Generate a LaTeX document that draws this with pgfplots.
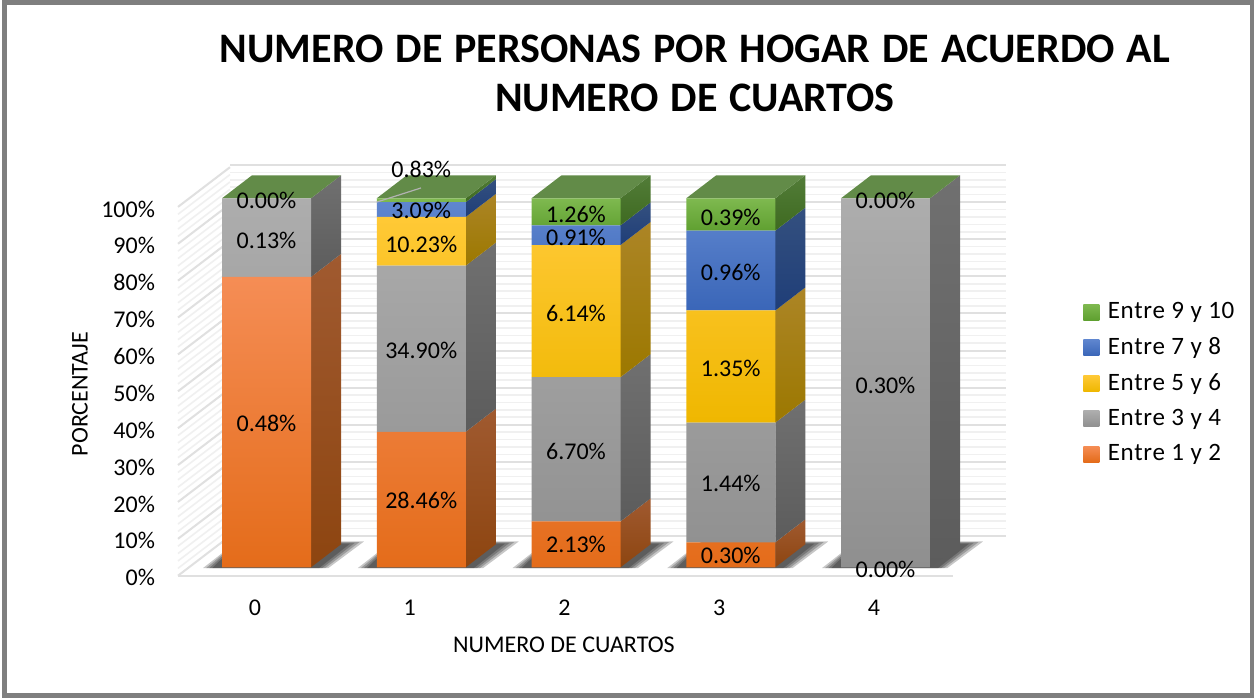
\documentclass[border=0pt]{standalone}
\usepackage{pgfplots}
\usepackage{pgfplotstable}
\usepackage{fontspec}
\setmainfont{Carlito}
\newfontfamily\titlefont[WordSpace=1.25]{Carlito}
\pgfplotsset{compat=1.18}

% 1 px of the reference = 0.5pt
\definecolor{frameg}{HTML}{7F7F7F}
\definecolor{gridM}{HTML}{E0E0E0}
\definecolor{gridm}{HTML}{F0F0F0}
\definecolor{oT}{HTML}{F58D55}\definecolor{oB}{HTML}{E46C1A}
\definecolor{gT}{HTML}{ADADAD}\definecolor{gB}{HTML}{8F8F8F}
\definecolor{yT}{HTML}{FFC936}\definecolor{yB}{HTML}{EFB700}
\definecolor{bT}{HTML}{5F86CF}\definecolor{bB}{HTML}{3A66B8}
\definecolor{nT}{HTML}{7FB950}\definecolor{nB}{HTML}{5FA030}
\definecolor{osT}{HTML}{A05A30}\definecolor{osB}{HTML}{8D4510}
\definecolor{gsT}{HTML}{707070}\definecolor{gsB}{HTML}{5C5C5C}
\definecolor{ysT}{HTML}{AC8526}\definecolor{ysB}{HTML}{9C7800}
\definecolor{bsT}{HTML}{34507F}\definecolor{bsB}{HTML}{1F3E78}
\definecolor{nsT}{HTML}{527C38}\definecolor{nsB}{HTML}{3E6A20}
\definecolor{topf}{HTML}{628B48}

% normalised shares (%) of each column, from the printed values
\pgfplotstableread{
c o g y b n
0 78.69 21.31 0 0 0
1 36.72 45.03 13.20 3.99 1.06
2 12.43 39.09 35.82 5.31 7.35
3 6.76 32.43 30.41 21.62 8.78
4 0 100 0 0 0
}\shares

\pgfplotstableread{
x y label
0 39.1 0.48
0 88.7 0.13
0 99.5 0.00
1 18.0 28.46
1 58.9 34.90
1 87.6 10.23
1 96.6 3.09
1 107.7 0.83
2 6.3 2.13
2 31.5 6.70
2 68.9 6.14
2 89.5 0.91
2 95.7 1.26
3 3.1 0.30
3 22.8 1.44
3 54.0 1.35
3 80.0 0.96
3 94.7 0.39
4 49.4 0.30
4 99.5 0.00
4 -0.5 0.00
}\labelpos

\newcommand{\sideface}[5]{%
  \pgfmathsetmacro{\xa}{#1+0.2876}%
  \pgfmathsetmacro{\xb}{#1+0.4815}%
  \pgfmathsetmacro{\ya}{#2+6.23}%
  \pgfmathsetmacro{\yb}{#3+6.23}%
  \addplot[draw=none,top color=#4,bottom color=#5,forget plot] coordinates {(\xa,#2) (\xb,\ya) (\xb,\yb) (\xa,#3)};
}
\newcommand{\topface}[1]{%
  \pgfmathsetmacro{\xa}{#1-0.2876}%
  \pgfmathsetmacro{\xb}{#1+0.2876}%
  \pgfmathsetmacro{\xc}{#1+0.4815}%
  \pgfmathsetmacro{\xd}{#1-0.0937}%
  \addplot[draw=none,fill=topf,forget plot] coordinates {(\xa,100) (\xb,100) (\xc,106.23) (\xd,106.23)};
}
\newcommand{\shadowlayer}[5]{%
  \pgfmathsetmacro{\xa}{#1-#2}%
  \pgfmathsetmacro{\xb}{#1+#3}%
  \pgfmathsetmacro{\xc}{#1+#4}%
  \pgfmathsetmacro{\xd}{#1-0.19}%
  \addplot[draw=none,fill=black,fill opacity=0.22,forget plot] coordinates {(\xa,-0.2) (\xb,-0.2) (\xc,#5) (\xd,#5)};
}
\newcommand{\barshadow}[1]{%
  \shadowlayer{#1}{0.41}{0.40}{0.63}{7.0}%
  \shadowlayer{#1}{0.39}{0.38}{0.60}{6.8}%
  \shadowlayer{#1}{0.37}{0.36}{0.57}{6.6}%
  \shadowlayer{#1}{0.35}{0.34}{0.54}{6.4}%
}

\pgfplotsset{
  plain box/.style={clip=false,axis line style={draw=none},tick style={draw=none},
    enlargelimits=false},
  bar geometry/.style={at={(133.25pt,65.35pt)},anchor=origin,x=77.375pt,y=1.845pt,
    xmin=-0.5,xmax=4.5,ymin=0,ymax=100,plain box,xtick=\empty,ytick=\empty},
  wall grid/.style={ytick={0,10,...,100},minor y tick num=4,yticklabels={},xtick=\empty,
    ymajorgrids,yminorgrids,
    major grid style={gridM,line width=1pt},minor grid style={gridm,line width=0.8pt}},
}

\begin{document}
\begin{tikzpicture}
\useasboundingbox (0,0) rectangle (627pt,349pt);
\fill[white] (0,0) rectangle (627pt,349pt);
\draw[frameg,line width=2.5pt] (2.25pt,1.25pt) rectangle (626pt,347.75pt);

% left wall
\begin{axis}[at={(89pt,61.15pt)},anchor=origin,x={(26pt,19.85pt)},y={(0pt,1.844pt)},
  xmin=0,xmax=1,ymin=0,ymax=100,plain box,wall grid]
\end{axis}
% back wall
\begin{axis}[at={(115pt,81pt)},anchor=south west,scale only axis,width=388pt,height=185.5pt,
  xmin=0,xmax=1,ymin=0,ymax=100,plain box,wall grid]
\end{axis}

% ticks, labels, title, floor line
\begin{axis}[at={(89pt,61.15pt)},anchor=south west,scale only axis,width=387.5pt,height=184.35pt,
  xmin=-0.5719,xmax=4.4362,ymin=0,ymax=100,plain box,
  xtick={0,1,2,3,4},ytick={0,10,...,100},
  font=\fontsize{12}{14}\selectfont,
  /pgf/number format/assume math mode=true,
  yticklabel={\pgfmathprintnumber{\tick}\%},
  yticklabel style={xshift=-8pt,yshift=-1pt},
  xticklabel style={xshift=-5.75pt,yshift=-8.5pt},
  xlabel={NUMERO DE CUARTOS},ylabel={PORCENTAJE},
  every axis x label/.style={at={(axis description cs:0.498,-0.188)},anchor=center},
  every axis y label/.style={at={(axis description cs:-0.1265,0.4928)},rotate=90,anchor=center},
  title={NUMERO DE PERSONAS POR HOGAR DE ACUERDO AL\\NUMERO DE CUARTOS},
  title style={at={(axis description cs:0.667,1.331)},anchor=center,align=center,
    font=\titlefont\bfseries\fontsize{21}{24.5}\selectfont},
  ]
  \addplot[gridM,line width=1.1pt,forget plot] coordinates {(-0.5719,0) (4.4362,0)};
\end{axis}

% floor shadows, side and top faces
\begin{axis}[bar geometry]
  \barshadow{0}\barshadow{1}\barshadow{2}\barshadow{3}\barshadow{4}
  \sideface{0}{0}{78.69}{osT}{osB}
  \sideface{0}{78.69}{100}{gsT}{gsB}
  \sideface{1}{0}{36.72}{osT}{osB}
  \sideface{1}{36.72}{81.75}{gsT}{gsB}
  \sideface{1}{81.75}{94.95}{ysT}{ysB}
  \sideface{1}{94.95}{98.94}{bsT}{bsB}
  \sideface{1}{98.94}{100}{nsT}{nsB}
  \sideface{2}{0}{12.43}{osT}{osB}
  \sideface{2}{12.43}{51.52}{gsT}{gsB}
  \sideface{2}{51.52}{87.34}{ysT}{ysB}
  \sideface{2}{87.34}{92.65}{bsT}{bsB}
  \sideface{2}{92.65}{100}{nsT}{nsB}
  \sideface{3}{0}{6.76}{osT}{osB}
  \sideface{3}{6.76}{39.19}{gsT}{gsB}
  \sideface{3}{39.19}{69.60}{ysT}{ysB}
  \sideface{3}{69.60}{91.22}{bsT}{bsB}
  \sideface{3}{91.22}{100}{nsT}{nsB}
  \sideface{4}{0}{100}{gsT}{gsB}
  \topface{0}\topface{1}\topface{2}\topface{3}\topface{4}
\end{axis}

% front faces
\begin{axis}[bar geometry,ybar stacked,bar width=44.5pt]
  \addplot[draw=none,top color=oT,bottom color=oB] table[x=c,y=o]{\shares};
  \addplot[draw=none,top color=gT,bottom color=gB] table[x=c,y=g]{\shares};
  \addplot[draw=none,top color=yT,bottom color=yB] table[x=c,y=y]{\shares};
  \addplot[draw=none,top color=bT,bottom color=bB] table[x=c,y=b]{\shares};
  \addplot[draw=none,top color=nT,bottom color=nB] table[x=c,y=n]{\shares};
\end{axis}

% value labels, leader line, legend
\begin{axis}[bar geometry,
  font=\fontsize{12}{14}\selectfont,
  legend image code/.code={\path[draw=none,#1] (0pt,-4pt) rectangle (8pt,4pt);\path (12pt,0pt);},
  legend cell align=left,
  legend style={at={(axis cs:5.276,71.9)},anchor=north west,draw=none,fill=none,
    inner sep=0pt,row sep=7.95pt,
    font=\fontsize{12.5}{14}\selectfont\addfontfeatures{LetterSpace=3},
    nodes={inner sep=0pt,outer sep=0pt}},
  ]
  \addplot[only marks,mark=none,forget plot,point meta=explicit symbolic,
    nodes near coords={\pgfplotspointmeta\%},
    nodes near coords align={center},
    every node near coord/.append style={inner sep=0pt,text=black}]
    table[x=x,y=y,meta=label]{\labelpos};
  \addplot[color=gray!60,line width=0.6pt,forget plot] coordinates {(0.714,99) (0.998,102.8)};
  \addlegendimage{top color=nT,bottom color=nB}\addlegendentry{Entre 9 y 10}
  \addlegendimage{top color=bT,bottom color=bB}\addlegendentry{Entre 7 y 8}
  \addlegendimage{top color=yT,bottom color=yB}\addlegendentry{Entre 5 y 6}
  \addlegendimage{top color=gT,bottom color=gB}\addlegendentry{Entre 3 y 4}
  \addlegendimage{top color=oT,bottom color=oB}\addlegendentry{Entre 1 y 2}
\end{axis}
\end{tikzpicture}
\end{document}
